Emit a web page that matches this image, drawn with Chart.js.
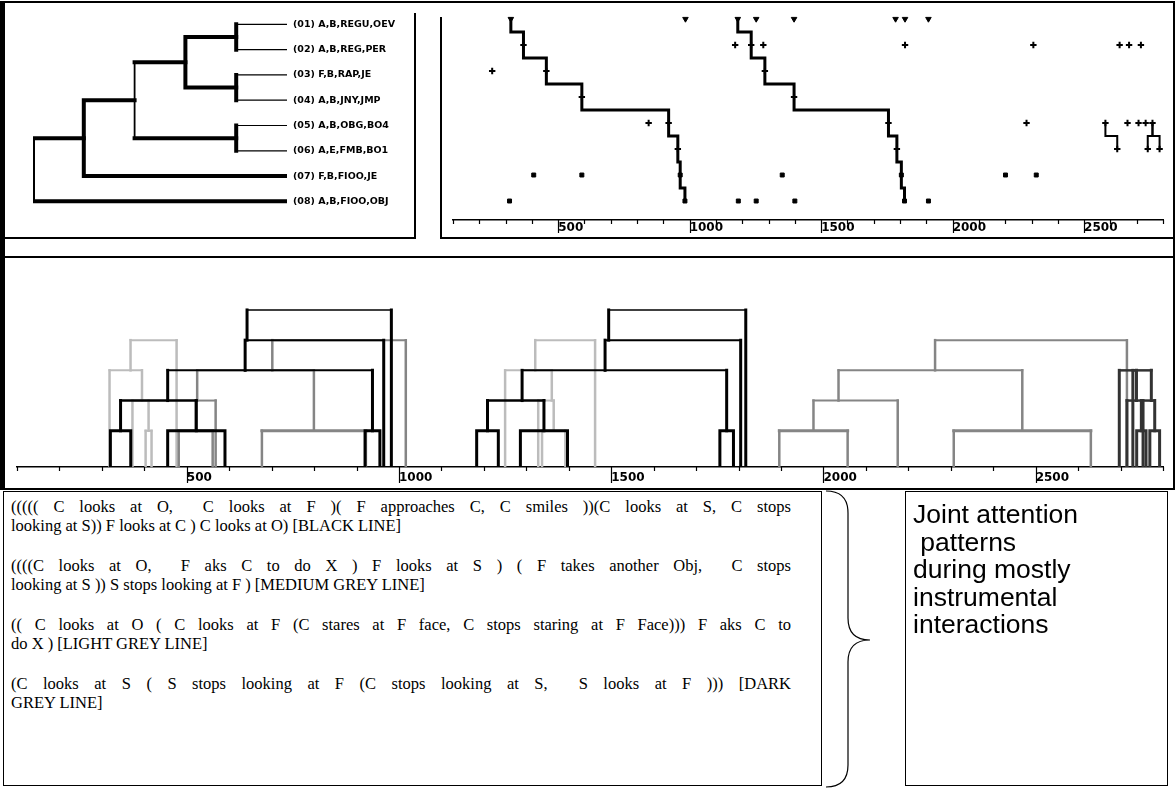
<!DOCTYPE html>
<html>
<head>
<meta charset="utf-8">
<script src="https://cdn.jsdelivr.net/npm/chart.js@4.4.1/dist/chart.umd.min.js"></script>
<style>
  body { margin: 0; background: #fff; width: 1176px; height: 791px; position: relative; overflow: hidden; }
  canvas { position: absolute; }
  .line { position: absolute; background: #000; }
  #outer { position: absolute; left: 0; top: 1px; width: 1175px; height: 489px; box-sizing: border-box;
           border-top: 2px solid #000; border-left: 5px solid #000; border-right: 2px solid #000; border-bottom: 2px solid #000; }
  #textBox { position: absolute; left: 3px; top: 491px; width: 819px; height: 295px; box-sizing: border-box;
             border: 1px solid #000; padding: 6px 0 0 7px; font-family: 'Liberation Serif', serif; font-size: 16.5px;
             line-height: 18.5px; color: #000; }
  #textBox .para { margin: 0 0 22px 0; }
  #textBox .j { width: 780px; text-align: justify; text-align-last: justify; }
  #textBox .l { white-space: pre; }
  #noteBox { position: absolute; left: 905px; top: 491px; width: 263px; height: 295px; box-sizing: border-box;
             border: 1px solid #000; padding: 9px 0 0 7px; font-family: 'Liberation Sans', sans-serif; font-size: 26.5px;
             line-height: 27.5px; color: #000; white-space: pre; }
  #brace { position: absolute; left: 0; top: 0; }
</style>
</head>
<body>
<div id="outer"></div>
<div class="line" style="left:0;top:256px;width:1175px;height:2px"></div>
<div class="line" style="left:414px;top:13px;width:1.5px;height:226px"></div>
<div class="line" style="left:0;top:237px;width:416px;height:2px"></div>
<div class="line" style="left:440px;top:17px;width:1.5px;height:222px"></div>
<div class="line" style="left:440px;top:237px;width:735px;height:2px"></div>

<canvas id="dendro" width="415" height="238" style="left:0;top:0"></canvas>
<canvas id="events" width="736" height="245" style="left:440px;top:0"></canvas>
<canvas id="trees" width="1176" height="230" style="left:0;top:258px"></canvas>

<div id="textBox">
  <div class="para">
    <div class="j">((((( C looks at O,&nbsp; C looks at F )( F approaches C, C smiles ))(C looks at S, C stops</div>
    <div class="l">looking at S)) F looks at C ) C looks at O) [BLACK LINE]</div>
  </div>
  <div class="para">
    <div class="j">((((C looks at O,&nbsp; F aks C to do X ) F looks at S ) ( F takes another Obj,&nbsp; C stops</div>
    <div class="l">looking at S )) S stops looking at F ) [MEDIUM GREY LINE]</div>
  </div>
  <div class="para">
    <div class="j">(( C looks at O ( C looks at F (C stares at F face, C stops staring at F Face))) F aks C to</div>
    <div class="l">do X ) [LIGHT GREY LINE]</div>
  </div>
  <div class="para">
    <div class="j">(C looks at S ( S stops looking at F (C stops looking at S,&nbsp; S looks at F ))) [DARK</div>
    <div class="l">GREY LINE]</div>
  </div>
</div>

<svg id="brace" width="1176" height="791">
  <path d="M826 491 Q848 491 848 513 L848 618 Q848 640 870 640 Q848 640 848 662 L848 765 Q848 787 826 787"
        fill="none" stroke="#000" stroke-width="1.2"/>
</svg>

<div id="noteBox">Joint attention
 patterns
during mostly
instrumental
interactions</div>

<script>
// event types (rows of the dendrogram and of the event plot)
const eventLabels = ['(01) A,B,REGU,OEV', '(02) A,B,REG,PER', '(03) F,B,RAP,JE', '(04) A,B,JNY,JMP',
                     '(05) A,B,OBG,BO4', '(06) A,E,FMB,BO1', '(07) F,B,FIOO,JE', '(08) A,B,FIOO,OBJ'];
const eventRows = [1, 2, 3, 4, 5, 6, 7, 8];

// dendrogram merges
const mergeNames = ['A', 'B', 'C', 'D', 'E', 'F', 'G'];
const mergeLeft  = [1, 3, 5, 'A', 'D', 'E', 'F'];
const mergeRight = [2, 4, 6, 'B', 'C', 7, 8];
const mergeDist  = [1, 1, 1, 2, 3, 4, 5];

// time axis
const tickValues = [];
for (let v = 100; v <= 2800; v += 100) tickValues.push(v);
const labelValues = [500, 1000, 1500, 2000, 2500];

// event occurrences per row (besides the drawn patterns)
const eventTimes = [
  [984, 1253, 1397, 1783, 1819, 1908],
  [1173, 1280, 1819, 2307, 2635, 2671, 2716],
  [249],
  [],
  [844, 2281, 2581, 2665, 2707, 2734, 2760],
  [2626, 2742, 2787],
  [407, 590, 1352, 2201, 2318],
  [315, 1185, 1253, 1400, 1908]
];

// pattern occurrences (leaf times, in pattern order)
const blackOcc1  = [320, 368, 455, 590, 920, 955, 964, 982];
const blackOcc2  = [1183, 1234, 1286, 1397, 1756, 1788, 1805, 1817];
const mediumOcc1 = [481, 561, 568, 677, 922, 1016];
const mediumOcc2 = [1896, 2057, 2175, 2307, 2630, 2715];
const lightOcc1  = [318, 372, 403, 417, 476];
const lightOcc2  = [1250, 1328, 1337, 1392, 1462];
const darkOcc1   = [2697, 2715, 2738, 2760];
const darkOcc2   = [2729, 2753, 2769, 2792];

// small step patterns on rows 5-6 of the event plot
const cornerRows = [5, 6];
const cornerOccA = [2581, 2626];
const cornerOccB = [2760, 2742];
const cornerOccC = [2760, 2787];

// pattern structures (leaf indices)
const blackTree  = [[[[[0, 1], [2, 3]], [4, 5]], 6], 7];
const mediumTree = [[[[0, 1], 2], [3, 4]], 5];
const lightTree  = [[0, [1, [2, 3]]], 4];
const darkTree   = [0, [1, [2, 3]]];

// ---------- styling ----------
const thinLinks = [1, 2, 3, 4, 5, 6];
const thinJoins = ['E'];
const labelFont = { family: 'DejaVu Sans', size: 12, weight: 'bold' };
const noUi = { legend: { display: false }, tooltip: { enabled: false } };

const tickMarks = {
  id: 'tickMarks',
  afterDraw(chart, args, opts) {
    const s = chart.scales.x, ctx = chart.ctx;
    ctx.save();
    ctx.strokeStyle = '#000';
    ctx.lineWidth = 1.2;
    s.ticks.forEach(t => {
      const x = Math.round(s.getPixelForValue(t.value)) + 0.5;
      const len = labelValues.includes(t.value) ? opts.longLen : 4;
      ctx.beginPath();
      ctx.moveTo(x, s.top);
      ctx.lineTo(x, s.top + len);
      ctx.stroke();
    });
    ctx.restore();
  }
};

function timeAxis(height, pad) {
  return {
    type: 'linear', min: 100, max: 2800,
    afterFit: s => { s.height = height; },
    afterBuildTicks: s => { s.ticks = tickValues.map(v => ({ value: v })); },
    grid: { display: false, drawTicks: false },
    border: { display: true, color: '#000', width: 1.5 },
    ticks: {
      autoSkip: false, maxRotation: 0, align: 'start', padding: pad, color: '#000', font: labelFont,
      callback: v => labelValues.includes(v) ? String(v) : ''
    }
  };
}

// ---------- dendrogram ----------
const pos = {};
eventRows.forEach(r => { pos[r] = { d: 0, y: r }; });
const dendroSets = [];
mergeNames.forEach((name, i) => {
  const a = pos[mergeLeft[i]], b = pos[mergeRight[i]], d = mergeDist[i];
  const widths = [thinLinks.includes(mergeLeft[i]) ? 1.2 : 4,
                  thinJoins.includes(name) ? 1.8 : 4,
                  thinLinks.includes(mergeRight[i]) ? 1.2 : 4];
  dendroSets.push({
    data: [{ x: a.d, y: a.y }, { x: d, y: a.y }, { x: d, y: b.y }, { x: b.d, y: b.y }],
    borderColor: '#000', borderWidth: 4, pointRadius: 0, borderCapStyle: 'square',
    segment: { borderWidth: c => widths[c.p0DataIndex] }
  });
  pos[name] = { d, y: (a.y + b.y) / 2 };
});

new Chart(document.getElementById('dendro'), {
  type: 'line',
  data: { datasets: dendroSets },
  options: {
    responsive: false, animation: false, events: [],
    layout: { padding: { left: 33, top: 5.5, bottom: 24, right: 0 } },
    plugins: noUi,
    scales: {
      x: { type: 'linear', reverse: true, min: 0, max: 5, display: false },
      y: {
        type: 'linear', position: 'right', reverse: true, min: 0.5, max: 8.5,
        afterFit: s => { s.width = 128; },
        afterBuildTicks: s => { s.ticks = eventRows.map(v => ({ value: v })); },
        grid: { display: false, drawTicks: false }, border: { display: false },
        ticks: { padding: 6, color: '#000', font: { family: 'DejaVu Sans', size: 9.5, weight: 'bold' },
                 callback: v => eventLabels[v - 1] }
      }
    }
  }
});

// ---------- event plot ----------
function stepPath(times, rows) {
  const pts = [];
  times.forEach((t, i) => {
    if (i > 0) pts.push({ x: t, y: (rows[i - 1] + rows[i]) / 2 });
    pts.push({ x: t, y: rows[i] });
    if (i < times.length - 1) pts.push({ x: t, y: (rows[i] + rows[i + 1]) / 2 });
  });
  return pts;
}

const rowMarker = ['triangle', 'cross', 'cross', 'cross', 'cross', 'cross', 'rect', 'rect'];
const eventSets = [];
[blackOcc1, blackOcc2].forEach(occ => {
  eventSets.push({ data: stepPath(occ, eventRows), borderColor: '#000', borderWidth: 3, pointRadius: 0, borderCapStyle: 'square' });
});
[cornerOccA, cornerOccB, cornerOccC].forEach(occ => {
  eventSets.push({ data: stepPath(occ, cornerRows), borderColor: '#000', borderWidth: 2, pointRadius: 0, borderCapStyle: 'square' });
});
eventRows.forEach((r, i) => {
  const times = eventTimes[i].concat([blackOcc1[i], blackOcc2[i]]);
  eventSets.push({
    data: times.map(t => ({ x: t, y: r })),
    showLine: false, pointStyle: rowMarker[i], pointRotation: i === 0 ? 180 : 0,
    pointRadius: rowMarker[i] === 'rect' ? 2.8 : 3.2, pointBorderWidth: rowMarker[i] === 'cross' ? 2 : 1,
    pointBackgroundColor: '#000', pointBorderColor: '#000'
  });
});

new Chart(document.getElementById('events'), {
  type: 'line',
  data: { datasets: eventSets },
  options: {
    responsive: false, animation: false, events: [],
    layout: { padding: { left: 13, right: 13, top: 5.5, bottom: 0 } },
    plugins: Object.assign({ tickMarks: { longLen: 13 } }, noUi),
    scales: {
      x: timeAxis(25, 1),
      y: { type: 'linear', reverse: true, min: 0.5, max: 8.73, display: false }
    }
  },
  plugins: [tickMarks]
});

// ---------- pattern trees ----------
const Y_MIN = -0.2;
function buildTree(node, times, out) {
  if (typeof node === 'number') {
    const t = times[node];
    return { x: t, level: 0, first: t, last: t };
  }
  const a = buildTree(node[0], times, out), b = buildTree(node[1], times, out);
  const level = Math.max(a.level, b.level) + 1;
  out.push({
    level,
    pts: [{ x: a.x, y: a.level || Y_MIN }, { x: a.x, y: level }, { x: b.x, y: level }, { x: b.x, y: b.level || Y_MIN }]
  });
  const first = Math.min(a.first, b.first), last = Math.max(a.last, b.last);
  return { x: (first + last) / 2, level, first, last };
}

const treeStyles = [
  { tree: blackTree,  occs: [blackOcc1, blackOcc2],   color: '#000000', vw: 3,   hw: [3, 2.6, 2, 2, 1.5], order: 0 },
  { tree: darkTree,   occs: [darkOcc1, darkOcc2],     color: '#333333', vw: 3,   hw: [3, 2.5, 2.5],       order: 1 },
  { tree: mediumTree, occs: [mediumOcc1, mediumOcc2], color: '#858585', vw: 2.5, hw: [3, 2, 2, 2],        order: 2 },
  { tree: lightTree,  occs: [lightOcc1, lightOcc2],   color: '#bcbcbc', vw: 2.5, hw: [2, 2, 2, 2],        order: 3 }
];
const treeSets = [];
treeStyles.forEach(st => {
  st.occs.forEach(occ => {
    const brackets = [];
    buildTree(st.tree, occ, brackets);
    brackets.forEach(br => {
      treeSets.push({
        data: br.pts, borderColor: st.color, borderWidth: st.vw, pointRadius: 0, order: st.order,
        borderCapStyle: 'square',
        segment: { borderWidth: c => c.p0DataIndex === 1 ? st.hw[br.level - 1] : st.vw }
      });
    });
  });
});

new Chart(document.getElementById('trees'), {
  type: 'line',
  data: { datasets: treeSets },
  options: {
    responsive: false, animation: false, events: [],
    layout: { padding: { left: 17, right: 13, top: 0, bottom: 0 } },
    plugins: Object.assign({ tickMarks: { longLen: 16 } }, noUi),
    scales: {
      x: timeAxis(21, 4),
      y: { type: 'linear', min: Y_MIN, max: 6.72, display: false }
    }
  },
  plugins: [tickMarks]
});
</script>
</body>
</html>
